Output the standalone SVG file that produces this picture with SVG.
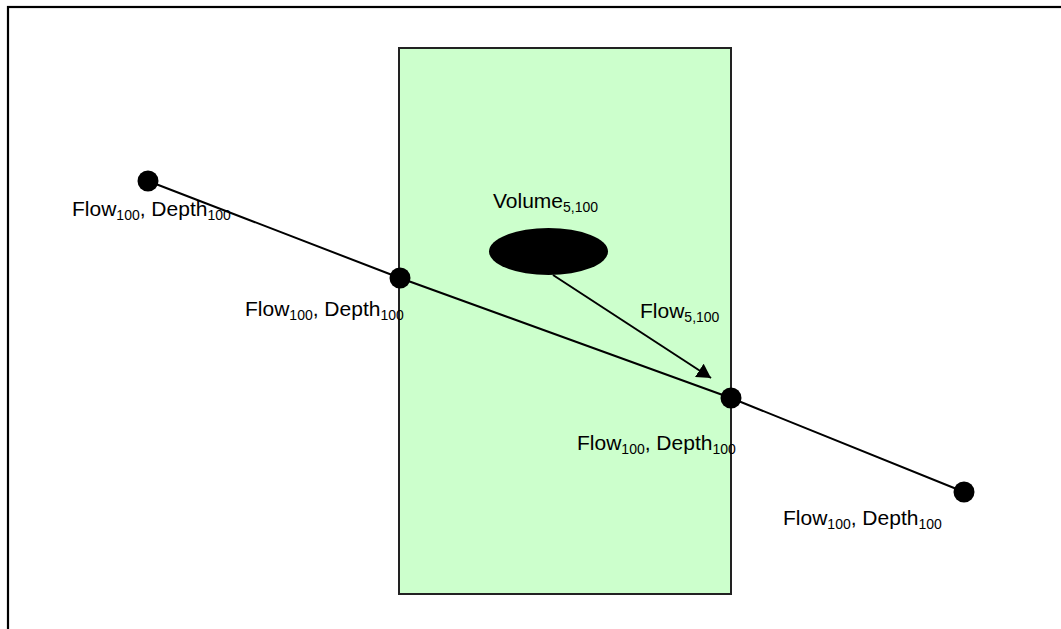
<svg xmlns="http://www.w3.org/2000/svg" width="1061" height="629" viewBox="0 0 1061 629">
<style>
  text { font-family: "Liberation Sans", Arial, sans-serif; font-size: 21px; fill: #000; }
  .sub { font-size: 14px; }
  .dot { fill: #000; }
  .line { stroke: #000; stroke-width: 2; fill: none; }
</style>
<defs>
  <marker id="arrow" markerWidth="14" markerHeight="16" refX="14" refY="8" orient="auto" markerUnits="userSpaceOnUse">
    <path d="M0,0 L14,8 L0,16 Z" fill="#000"/>
  </marker>
</defs>
<rect width="1061" height="629" fill="#fff"/>
<rect id="frame" x="8" y="7" width="1070" height="640" fill="none" stroke="#000" stroke-width="2.2"/>
<g id="region">
  <rect x="399" y="48" width="332" height="546" fill="#ccffcc" stroke="#222" stroke-width="2"/>
</g>
<g id="connectors">
  <polyline class="line" points="148,181 400,278 731,398 964,492"/>
  <line class="line" x1="553" y1="275" x2="711" y2="378" marker-end="url(#arrow)"/>
</g>
<g id="volume">
  <ellipse cx="548.5" cy="251.5" rx="59.5" ry="23.5" fill="#000"/>
  <text x="493" y="208">Volume<tspan class="sub" dy="4">5,100</tspan></text>
</g>
<text id="flow-label" x="640" y="318">Flow<tspan class="sub" dy="4">5,100</tspan></text>
<g id="node1">
  <circle class="dot" cx="148" cy="181" r="10.5"/>
  <text x="72" y="216">Flow<tspan class="sub" dy="4">100</tspan><tspan dy="-4">, Depth</tspan><tspan class="sub" dy="4">100</tspan></text>
</g>
<g id="node2">
  <circle class="dot" cx="400" cy="278" r="10.5"/>
  <text x="245" y="316">Flow<tspan class="sub" dy="4">100</tspan><tspan dy="-4">, Depth</tspan><tspan class="sub" dy="4">100</tspan></text>
</g>
<g id="node3">
  <circle class="dot" cx="731" cy="398" r="10.5"/>
  <text x="577" y="450">Flow<tspan class="sub" dy="4">100</tspan><tspan dy="-4">, Depth</tspan><tspan class="sub" dy="4">100</tspan></text>
</g>
<g id="node4">
  <circle class="dot" cx="964" cy="492" r="10.5"/>
  <text x="783" y="525">Flow<tspan class="sub" dy="4">100</tspan><tspan dy="-4">, Depth</tspan><tspan class="sub" dy="4">100</tspan></text>
</g>
</svg>
